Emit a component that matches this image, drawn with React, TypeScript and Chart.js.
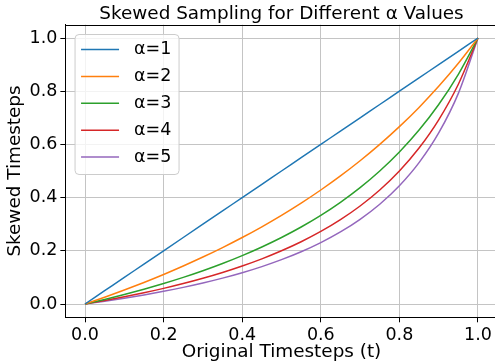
import React, { useEffect, useRef } from "react";
import { Chart, registerables } from "chart.js";

Chart.register(...registerables);

const TITLE = "Skewed Sampling for Different α Values";
const X_LABEL = "Original Timesteps (t)";
const Y_LABEL = "Skewed Timesteps";
const X_TICKS = [0, 0.2, 0.4, 0.6, 0.8, 1.0];
const Y_TICKS = [0, 0.2, 0.4, 0.6, 0.8, 1.0];
const SERIES_LABELS = ["α=1", "α=2", "α=3", "α=4", "α=5"];
const COLORS = ["#1f77b4", "#ff7f0e", "#2ca02c", "#d62728", "#9467bd"];

const T = [0, 0.05, 0.1, 0.15, 0.2, 0.25, 0.3, 0.35, 0.4, 0.45, 0.5, 0.55, 0.6, 0.65, 0.7, 0.75, 0.8, 0.85, 0.9, 0.95, 1.0];
const A1 = [0, 0.05, 0.1, 0.15, 0.2, 0.25, 0.3, 0.35, 0.4, 0.45, 0.5, 0.55, 0.6, 0.65, 0.7, 0.75, 0.8, 0.85, 0.9, 0.95, 1.0];
const A2 = [0, 0.0256, 0.0526, 0.0811, 0.1111, 0.1429, 0.1765, 0.2121, 0.25, 0.2903, 0.3333, 0.3793, 0.4286, 0.4815, 0.5385, 0.6, 0.6667, 0.7391, 0.8182, 0.9048, 1.0];
const A3 = [0, 0.0172, 0.0357, 0.0556, 0.0769, 0.1, 0.125, 0.1522, 0.1818, 0.2143, 0.25, 0.2895, 0.3333, 0.3824, 0.4375, 0.5, 0.5714, 0.6538, 0.75, 0.8636, 1.0];
const A4 = [0, 0.013, 0.027, 0.0423, 0.0588, 0.0769, 0.0968, 0.1186, 0.1429, 0.1698, 0.2, 0.234, 0.2727, 0.3171, 0.3684, 0.4286, 0.5, 0.5862, 0.6923, 0.8261, 1.0];
const A5 = [0, 0.0104, 0.0217, 0.0341, 0.0476, 0.0625, 0.0789, 0.0972, 0.1176, 0.1406, 0.1667, 0.1964, 0.2308, 0.2708, 0.3182, 0.375, 0.4444, 0.5313, 0.6429, 0.7917, 1.0];
const SERIES = [A1, A2, A3, A4, A5];

const FONT = "'DejaVu Sans', 'Liberation Sans', sans-serif";
const CANVAS_W = 510;
const CANVAS_H = 362;

const spinesPlugin = {
  id: "spines",
  afterDatasetsDraw(chart: any) {
    const { ctx, chartArea } = chart;
    ctx.save();
    ctx.strokeStyle = "#000";
    ctx.lineWidth = 1;
    ctx.beginPath();
    ctx.moveTo(chartArea.left, Math.round(chartArea.top) + 0.5);
    ctx.lineTo(chartArea.right, Math.round(chartArea.top) + 0.5);
    ctx.moveTo(Math.round(chartArea.right) + 0.5, chartArea.top);
    ctx.lineTo(Math.round(chartArea.right) + 0.5, chartArea.bottom);
    ctx.stroke();
    ctx.restore();
  },
};

const titlePlugin = {
  id: "mplTitle",
  afterDraw(chart: any) {
    const { ctx, chartArea } = chart;
    ctx.save();
    ctx.font = `18.4px ${FONT}`;
    ctx.fillStyle = "#000";
    ctx.textAlign = "center";
    ctx.textBaseline = "alphabetic";
    ctx.fillText(TITLE, (chartArea.left + chartArea.right) / 2, 19.3);
    ctx.restore();
  },
};

const legendPlugin = {
  id: "mplLegend",
  afterDraw(chart: any) {
    const { ctx, chartArea } = chart;
    const x0 = chartArea.left + 9.7;
    const y0 = chartArea.top + 9.8;
    const w = 104;
    const h = 140;
    const r = 4;
    ctx.save();
    ctx.beginPath();
    ctx.moveTo(x0 + r, y0);
    ctx.lineTo(x0 + w - r, y0);
    ctx.arcTo(x0 + w, y0, x0 + w, y0 + r, r);
    ctx.lineTo(x0 + w, y0 + h - r);
    ctx.arcTo(x0 + w, y0 + h, x0 + w - r, y0 + h, r);
    ctx.lineTo(x0 + r, y0 + h);
    ctx.arcTo(x0, y0 + h, x0, y0 + h - r, r);
    ctx.lineTo(x0, y0 + r);
    ctx.arcTo(x0, y0, x0 + r, y0, r);
    ctx.closePath();
    ctx.fillStyle = "rgba(255,255,255,0.8)";
    ctx.fill();
    ctx.strokeStyle = "#cccccc";
    ctx.lineWidth = 1;
    ctx.stroke();
    ctx.font = `17.5px ${FONT}`;
    ctx.textBaseline = "middle";
    ctx.textAlign = "left";
    SERIES_LABELS.forEach((lab, i) => {
      const y = y0 + 15 + i * 26.9;
      ctx.strokeStyle = COLORS[i];
      ctx.lineWidth = 1.5;
      ctx.beginPath();
      ctx.moveTo(x0 + 6, y);
      ctx.lineTo(x0 + 44, y);
      ctx.stroke();
      ctx.fillStyle = "#000";
      ctx.fillText(lab, x0 + 59, y);
    });
    ctx.restore();
  },
};

export default function App() {
  const ref = useRef<HTMLCanvasElement | null>(null);
  useEffect(() => {
    if (!ref.current) return;
    Chart.defaults.font.family = FONT;
    Chart.defaults.color = "#000";
    const datasets = SERIES.map((vals, i) => ({
      label: SERIES_LABELS[i],
      data: T.map((t, j) => ({ x: t, y: vals[j] })),
      borderColor: COLORS[i],
      backgroundColor: COLORS[i],
      borderWidth: 1.5,
      pointRadius: 0,
      cubicInterpolationMode: "monotone" as const,
      fill: false,
    }));
    const chart = new Chart(ref.current, {
      type: "line",
      data: { datasets },
      plugins: [spinesPlugin, titlePlugin, legendPlugin],
      options: {
        responsive: false,
        animation: false,
        devicePixelRatio: 1,
        layout: { padding: { left: 0, right: CANVAS_W - 497.65, top: 24.7, bottom: 0 } },
        plugins: {
          legend: { display: false },
          tooltip: { enabled: false },
          title: { display: false },
        },
        scales: {
          x: {
            type: "linear",
            min: -0.05,
            max: 1.05,
            afterBuildTicks: (scale: any) => {
              scale.ticks = X_TICKS.map((v) => ({ value: v }));
            },
            afterFit: (scale: any) => {
              scale.height = CANVAS_H - 317.3;
            },
            ticks: {
              autoSkip: false,
              maxRotation: 0,
              padding: 3,
              color: "#000",
              font: { size: 17.5, family: FONT },
              callback: (v: any) => Number(v).toFixed(1),
            },
            grid: {
              color: "#c4c4c4",
              lineWidth: 1,
              drawTicks: true,
              tickLength: 5,
              tickColor: "#000",
            },
            border: { display: true, color: "#000", width: 1 },
            title: {
              display: true,
              text: X_LABEL,
              color: "#000",
              font: { size: 18.4, family: FONT, lineHeight: 1.0 },
              padding: { top: 0, bottom: 0.8 },
            },
          },
          y: {
            type: "linear",
            min: -0.05,
            max: 1.05,
            afterBuildTicks: (scale: any) => {
              scale.ticks = Y_TICKS.map((v) => ({ value: v }));
            },
            afterFit: (scale: any) => {
              scale.width = 65.35;
            },
            ticks: {
              autoSkip: false,
              padding: 3,
              color: "#000",
              font: { size: 17.5, family: FONT },
              callback: (v: any) => Number(v).toFixed(1),
            },
            grid: {
              color: "#c4c4c4",
              lineWidth: 1,
              drawTicks: true,
              tickLength: 5,
              tickColor: "#000",
            },
            border: { display: true, color: "#000", width: 1 },
            title: {
              display: true,
              text: Y_LABEL,
              color: "#000",
              font: { size: 18.4, family: FONT, lineHeight: 1.2 },
              padding: { top: 4, bottom: 0 },
            },
          },
        },
      },
    } as any);
    return () => chart.destroy();
  }, []);
  return (
    <div style={{ position: "absolute", left: 0, top: 0, width: 495, height: CANVAS_H, overflow: "hidden", background: "#fff" }}>
      <canvas ref={ref} width={CANVAS_W} height={CANVAS_H} style={{ width: CANVAS_W, height: CANVAS_H, display: "block" }} />
    </div>
  );
}
